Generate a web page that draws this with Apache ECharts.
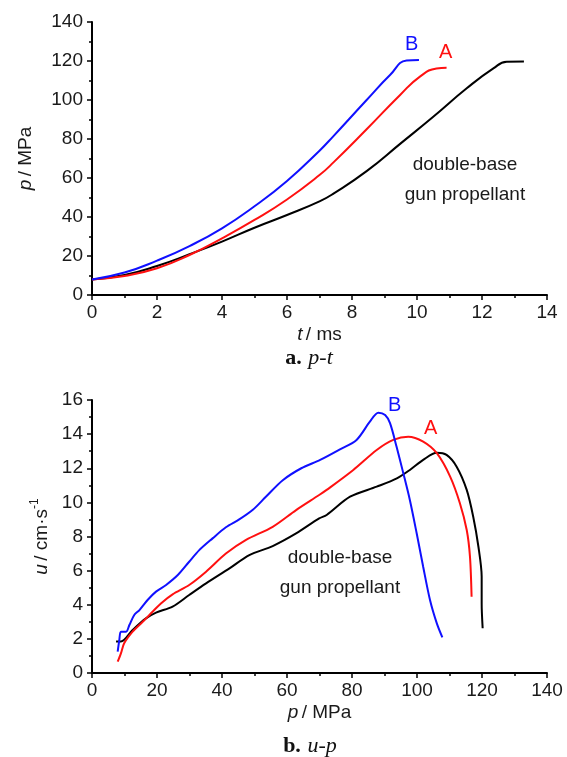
<!DOCTYPE html>
<html><head><meta charset="utf-8">
<script src="https://cdn.jsdelivr.net/npm/echarts@6/dist/echarts.min.js"></script>
<style>html,body{margin:0;padding:0;background:#fff}#c{width:567px;height:757px}</style>
</head><body><div id="c"></div>
<script>
// ---- Panel a: p-t ----
const tB = [0, 1, 2, 3, 4, 5, 6, 7, 7.43, 8.45, 9.17, 9.68, 10.06];
const pB = [8, 11.5, 17.6, 25.1, 34.2, 45.5, 58.5, 74, 81.5, 100, 112.8, 120.2, 120.5];
const tA = [0, 1, 2, 3, 4, 5, 6, 7, 7.43, 8.45, 9.48, 10.09, 10.6, 10.91];
const pA = [8, 9.7, 13.7, 20.5, 29.1, 38.5, 49, 61.5, 68, 85, 102.6, 112, 116.2, 116.6];
const tD = [0, 1, 2, 3, 4, 5, 6, 7, 7.43, 8.45, 9.48, 10.5, 11.53, 12.35, 12.76, 13.29];
const pD = [8, 10.3, 14.9, 20.9, 27.4, 34.5, 41, 48, 52, 63.5, 77.5, 91.4, 106, 116.2, 119.6, 119.8];

// ---- Panel b: u-p ----
const upB_p = [7.9, 8.4, 8.9, 10.5, 11.5, 13, 14.6, 17.1, 19.7, 22.8, 26.4, 29.9, 33, 37.1, 41.2, 45.3, 49.4, 53.5, 58.7, 64.4, 70.2, 76.3, 81.4, 85.5, 88.1, 90.2, 91.7, 93.7, 95.8, 97.8, 99.9, 101.9, 104, 106.1, 107.8];
const upB_u = [1.25, 1.93, 2.42, 2.42, 2.81, 3.4, 3.69, 4.28, 4.77, 5.16, 5.74, 6.52, 7.2, 7.89, 8.54, 9.0, 9.55, 10.33, 11.3, 12.0, 12.49, 13.11, 13.66, 14.73, 15.26, 15.12, 14.64, 13.27, 11.7, 10.14, 8.19, 6.23, 4.28, 2.91, 2.09];
const upA_p = [7.9, 8.9, 9.9, 12.5, 15.6, 18.7, 21.2, 24.8, 29.9, 35.1, 41.2, 47.4, 55.6, 62.8, 69.9, 72.2, 80.4, 87.6, 92.7, 97.3, 101.9, 106.1, 110.2, 113.2, 115.3, 116.3, 116.8];
const upA_u = [0.66, 1.15, 1.74, 2.42, 3.0, 3.6, 4.08, 4.61, 5.16, 5.94, 7.0, 7.8, 8.57, 9.55, 10.43, 10.73, 11.9, 13.07, 13.66, 13.85, 13.56, 12.88, 11.51, 9.95, 8.38, 6.82, 4.47];
const upD_p = [7.4, 8.9, 12.5, 16.6, 19.7, 24.8, 29.9, 35.1, 42.3, 48.4, 55.6, 62.8, 69.9, 72.2, 79.4, 87.6, 93.8, 97.8, 101.9, 106.1, 109.1, 112.2, 115.3, 117.3, 118.9, 119.9, 119.9, 120.2];
const upD_u = [1.84, 1.84, 2.52, 3.2, 3.54, 3.89, 4.57, 5.25, 6.13, 6.91, 7.44, 8.18, 9.06, 9.26, 10.33, 10.92, 11.41, 11.9, 12.49, 12.91, 12.78, 12.09, 10.73, 9.16, 7.4, 5.65, 4.08, 2.62];

const ticksA_x = [0, 14, 2];
const ticksA_y = [0, 140, 20];
const ticksB_x = [0, 140, 20];
const ticksB_y = [0, 16, 2];

const seriesNames = ['B', 'A', 'double-base gun propellant'];
const colors = ['#1010ff', '#ff1010', '#000000'];

const FONT = "'Liberation Sans', Arial, sans-serif";
const SERIF = "'Liberation Serif', 'DejaVu Serif', serif";
const FS = 19;
const zip = (a, b) => a.map((v, i) => [v, b[i]]);

function axisBase(range, minorSplit) {
  return {
    type: 'value', min: range[0], max: range[1], interval: range[2],
    axisLine: { show: true, lineStyle: { color: '#000', width: 2 } },
    axisTick: { show: true, inside: false, length: 5, lineStyle: { color: '#000', width: 1.5 } },
    minorTick: { show: true, splitNumber: minorSplit, length: 3, lineStyle: { color: '#000', width: 1.5 } },
    splitLine: { show: false }
  };
}
const nameRich = {
  i: { fontFamily: FONT, fontSize: FS, fontStyle: 'italic', color: '#1a1a1a' },
  n: { fontFamily: FONT, fontSize: FS, color: '#1a1a1a' },
  s: { fontFamily: FONT, fontSize: 12, color: '#1a1a1a', verticalAlign: 'top', lineHeight: 26 }
};
const lbl = (m) => ({ color: '#1a1a1a', fontFamily: FONT, fontSize: FS, margin: m });

function line(name, data, color, xi, sm) {
  return {
    name: name, type: 'line', xAxisIndex: xi, yAxisIndex: xi, data: data,
    showSymbol: false, smooth: sm, clip: false,
    lineStyle: { color: color, width: 2 }, itemStyle: { color: color }
  };
}

const chart = echarts.init(document.getElementById('c'), null, { renderer: 'canvas' });
const option = {
  backgroundColor: '#ffffff',
  animation: false,
  grid: [
    { left: 92, top: 22, width: 455, height: 273 },
    { left: 92, top: 400, width: 455, height: 273 }
  ],
  xAxis: [
    Object.assign(axisBase(ticksA_x, 2), {
      gridIndex: 0, name: '{i|t} {n|/ ms}', nameLocation: 'middle', nameGap: 30,
      nameTextStyle: { rich: nameRich }, axisLabel: lbl(8)
    }),
    Object.assign(axisBase(ticksB_x, 2), {
      gridIndex: 1, name: '{i|p} {n|/ MPa}', nameLocation: 'middle', nameGap: 30,
      nameTextStyle: { rich: nameRich }, axisLabel: lbl(8)
    })
  ],
  yAxis: [
    Object.assign(axisBase(ticksA_y, 2), {
      gridIndex: 0, name: '{i|p} {n|/ MPa}', nameLocation: 'middle', nameGap: 57, nameRotate: 90,
      nameTextStyle: { rich: nameRich }, axisLabel: lbl(9)
    }),
    Object.assign(axisBase(ticksB_y, 2), {
      gridIndex: 1, name: '{i|u} {n|/ cm·s}{s|-1}', nameLocation: 'middle', nameGap: 37, nameRotate: 90,
      nameTextStyle: { rich: nameRich }, axisLabel: lbl(9)
    })
  ],
  series: [
    line(seriesNames[2], zip(tD, pD), colors[2], 0, 0.5),
    line(seriesNames[1], zip(tA, pA), colors[1], 0, 0.5),
    line(seriesNames[0], zip(tB, pB), colors[0], 0, 0.5),
    line(seriesNames[2], zip(upD_p, upD_u), colors[2], 1, 0.3),
    line(seriesNames[1], zip(upA_p, upA_u), colors[1], 1, 0.3),
    line(seriesNames[0], zip(upB_p, upB_u), colors[0], 1, 0.3)
  ],
  graphic: [
    { type: 'text', left: 405, top: 34, style: { text: 'B', fill: colors[0], font: '20px ' + FONT } },
    { type: 'text', left: 439, top: 42, style: { text: 'A', fill: colors[1], font: '20px ' + FONT } },
    { type: 'text', x: 465, y: 165, style: { text: 'double-base', fill: '#1a1a1a', font: FS + 'px ' + FONT, align: 'center', verticalAlign: 'middle' } },
    { type: 'text', x: 465, y: 195, style: { text: 'gun propellant', fill: '#1a1a1a', font: FS + 'px ' + FONT, align: 'center', verticalAlign: 'middle' } },
    { type: 'text', left: 388, top: 395, style: { text: 'B', fill: colors[0], font: '20px ' + FONT } },
    { type: 'text', left: 424, top: 418, style: { text: 'A', fill: colors[1], font: '20px ' + FONT } },
    { type: 'text', x: 340, y: 558, style: { text: 'double-base', fill: '#1a1a1a', font: FS + 'px ' + FONT, align: 'center', verticalAlign: 'middle' } },
    { type: 'text', x: 340, y: 588, style: { text: 'gun propellant', fill: '#1a1a1a', font: FS + 'px ' + FONT, align: 'center', verticalAlign: 'middle' } },
    { type: 'text', x: 309, y: 358, style: {
      text: '{b|a.}  {i|p-t}', align: 'center', verticalAlign: 'middle',
      rich: { b: { fontFamily: SERIF, fontWeight: 'bold', fontSize: 22, fill: '#111' },
              i: { fontFamily: SERIF, fontStyle: 'italic', fontSize: 22, fill: '#111' } } } },
    { type: 'text', x: 310, y: 746, style: {
      text: '{b|b.}  {i|u-p}', align: 'center', verticalAlign: 'middle',
      rich: { b: { fontFamily: SERIF, fontWeight: 'bold', fontSize: 22, fill: '#111' },
              i: { fontFamily: SERIF, fontStyle: 'italic', fontSize: 22, fill: '#111' } } } }
  ]
};
chart.setOption(option);
</script>
</body></html>
